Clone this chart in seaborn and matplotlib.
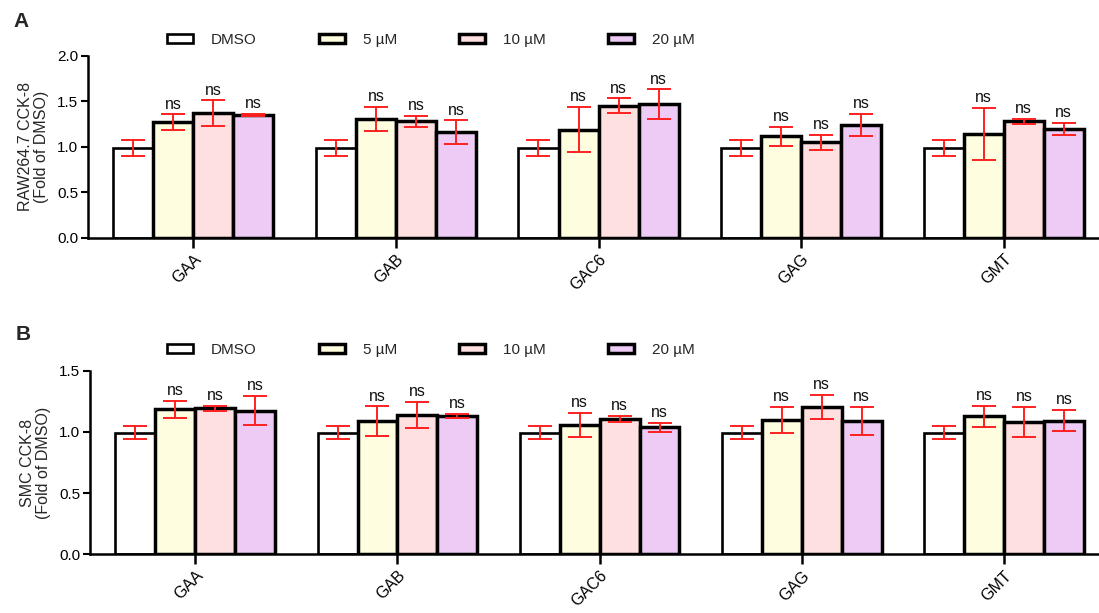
import numpy as np
import pandas as pd
import matplotlib
matplotlib.use("Agg")
import matplotlib.pyplot as plt
import seaborn as sns

compounds = ["GAA", "GAB", "GAC6", "GAG", "GMT"]
treatments = ["DMSO", "5 µM", "10 µM", "20 µM"]
colors = ["#FFFFFF", "#FEFDDF", "#FFE0E1", "#EDCBF5"]

# Panel A: RAW264.7 CCK-8 (fold of DMSO), mean and error per treatment
raw_dmso = [0.99, 0.99, 0.99, 0.99, 0.99]
raw_5 = [1.27, 1.305, 1.19, 1.115, 1.14]
raw_10 = [1.37, 1.28, 1.45, 1.05, 1.28]
raw_20 = [1.35, 1.16, 1.47, 1.24, 1.20]
raw_dmso_err = [0.09, 0.09, 0.09, 0.09, 0.09]
raw_5_err = [0.085, 0.13, 0.245, 0.105, 0.29]
raw_10_err = [0.14, 0.06, 0.083, 0.08, 0.03]
raw_20_err = [0.015, 0.13, 0.16, 0.12, 0.066]

# Panel B: SMC CCK-8 (fold of DMSO)
smc_dmso = [0.995, 0.995, 0.995, 0.995, 0.995]
smc_5 = [1.185, 1.087, 1.055, 1.097, 1.128]
smc_10 = [1.194, 1.138, 1.104, 1.205, 1.085]
smc_20 = [1.173, 1.131, 1.038, 1.09, 1.093]
smc_dmso_err = [0.052, 0.052, 0.052, 0.052, 0.052]
smc_5_err = [0.068, 0.123, 0.10, 0.108, 0.087]
smc_10_err = [0.022, 0.108, 0.025, 0.10, 0.123]
smc_20_err = [0.12, 0.02, 0.038, 0.118, 0.085]

sig_label = "ns"

sns.set_theme(style="ticks")
plt.rcParams["font.family"] = ["Liberation Sans", "DejaVu Sans"]


def long_frame(series):
    rows = []
    for t, vals in zip(treatments, series):
        for c, v in zip(compounds, vals):
            rows.append({"compound": c, "treatment": t, "value": v})
    return pd.DataFrame(rows)


def draw_panel(ax, means, errs, ylim, yticks, ylabel):
    df = long_frame(means)
    sns.barplot(data=df, x="compound", y="value", hue="treatment",
                order=compounds, hue_order=treatments, palette=colors,
                errorbar=None, width=0.79, edgecolor="black",
                linewidth=2.5, saturation=1, ax=ax, legend=False)
    bar_groups = list(ax.containers)
    for i, cont in enumerate(bar_groups):
        for j, bar in enumerate(cont.patches):
            xc = bar.get_x() + bar.get_width() / 2
            m = means[i][j]
            e = errs[i][j]
            if i == 0:
                bar.set_linewidth(1.9)
            ax.errorbar(xc, m, yerr=e, fmt="none", ecolor="#FF2020",
                        elinewidth=1.4, capsize=8.5, capthick=1.4, zorder=5)
            if i > 0:
                ax.annotate(sig_label, (xc, m + e), xytext=(0, 2),
                            textcoords="offset points", ha="center",
                            va="bottom", fontsize=11.5, color="#111111")
    ax.set_ylim(*ylim)
    ax.set_yticks(yticks)
    ax.set_yticklabels([f"{t:.1f}" for t in yticks], fontsize=11)
    ax.set_xlim(-0.52, 4.47)
    ax.set_xlabel("")
    ax.set_ylabel(ylabel, fontsize=11.5, linespacing=1.05, labelpad=6)
    ax.set_xticks(range(len(compounds)))
    ax.set_xticklabels(compounds, rotation=45, ha="right",
                       rotation_mode="anchor", fontsize=11.5)
    for s in ["top", "right"]:
        ax.spines[s].set_visible(False)
    for s in ["left", "bottom"]:
        ax.spines[s].set_linewidth(1.8)
        ax.spines[s].set_color("black")
    ax.tick_params(axis="y", length=5, width=1.5, pad=2, colors="black")
    ax.tick_params(axis="x", length=7, width=1.8, pad=3, colors="black")
    return bar_groups


fig = plt.figure(figsize=(10.99, 6.13), dpi=100)
axA = fig.add_axes([0.080, 0.612, 0.920, 0.297])
axB = fig.add_axes([0.082, 0.096, 0.918, 0.299])

groupsA = draw_panel(axA, [raw_dmso, raw_5, raw_10, raw_20],
                     [raw_dmso_err, raw_5_err, raw_10_err, raw_20_err],
                     (0, 2.0), [0.0, 0.5, 1.0, 1.5, 2.0],
                     "RAW264.7 CCK-8\n(Fold of DMSO)")
groupsB = draw_panel(axB, [smc_dmso, smc_5, smc_10, smc_20],
                     [smc_dmso_err, smc_5_err, smc_10_err, smc_20_err],
                     (0, 1.5), [0.0, 0.5, 1.0, 1.5],
                     "SMC CCK-8\n(Fold of DMSO)")

for groups, ypos in [(groupsA, 0.935), (groupsB, 0.429)]:
    handles = [cont.patches[0] for cont in groups]
    fig.legend(handles, treatments, loc="center", bbox_to_anchor=(0.392, ypos),
               ncol=4, frameon=False, fontsize=11, handlelength=1.7,
               handleheight=0.55, handletextpad=1.2, columnspacing=4.05)

fig.text(0.012, 0.965, "A", fontsize=15, fontweight="bold", va="center")
fig.text(0.014, 0.455, "B", fontsize=15, fontweight="bold", va="center")

fig.savefig("out.png", dpi=100)
